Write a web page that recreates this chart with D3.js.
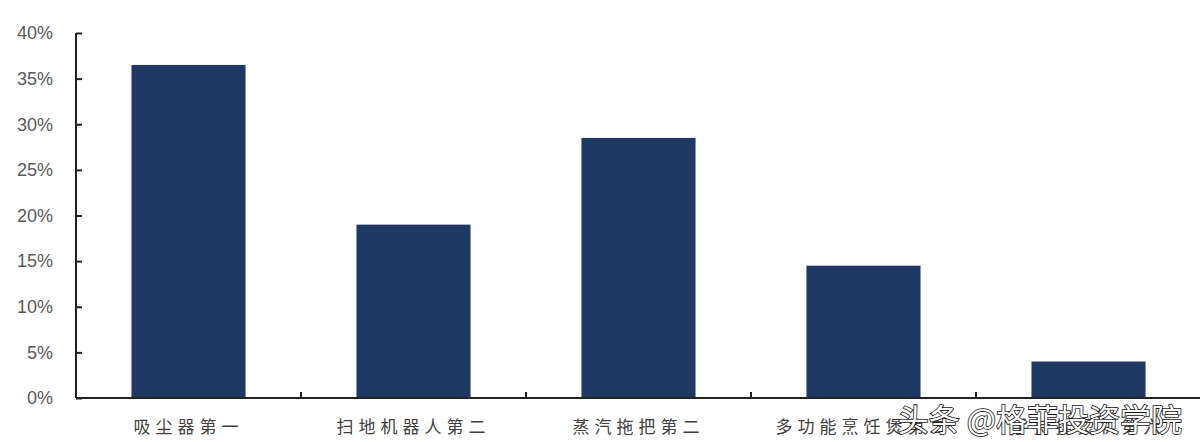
<!DOCTYPE html>
<html><head><meta charset="utf-8">
<script src="https://cdn.jsdelivr.net/npm/d3@7"></script>
<style>body{margin:0;background:#fff}svg{display:block}</style>
</head><body>
<script>
const categories = ["吸尘器第一","扫地机器人第二","蒸汽拖把第二","多功能烹饪煲第二","手持挂烫机第六"];
const values = [0.365, 0.19, 0.285, 0.145, 0.04];
const yTicks = [0,0.05,0.10,0.15,0.20,0.25,0.30,0.35,0.40];
const watermark = "头条 @格菲投资学院";

const W=1200,H=442;
const svg=d3.select("body").append("svg").attr("width",W).attr("height",H);
const x=d3.scaleBand().domain(categories).range([76,1201]).paddingInner(0.493).paddingOuter(0.2465);
const y=d3.scaleLinear().domain([0,0.4]).range([398,33]);

svg.selectAll("rect.bar").data(values).join("rect").attr("class","bar")
  .attr("x",(d,i)=>x(categories[i])).attr("width",x.bandwidth())
  .attr("y",d=>y(d)).attr("height",d=>y(0)-y(d)).attr("fill","#203864");

const ya=svg.append("g").attr("transform","translate(76,0)")
  .call(d3.axisLeft(y).tickValues(yTicks).tickFormat(d3.format(".0%")).tickSize(-6).tickPadding(23));
ya.select(".domain").attr("stroke","#222").attr("stroke-width",2).attr("d","M0,33V398");
ya.selectAll(".tick line").attr("stroke","#222").attr("stroke-width",2);
ya.selectAll("text").attr("font-family","'Liberation Sans',Arial,sans-serif").attr("font-size",18).attr("fill","#595959");

// x axis with boundary ticks
const xa=svg.append("g").attr("transform","translate(0,398)");
xa.append("line").attr("x1",76).attr("x2",1200).attr("y1",0).attr("y2",0).attr("stroke","#222").attr("stroke-width",2);
const bounds=categories.slice(1).map(c=>x(c)-x.step()*x.paddingInner()/2);
xa.selectAll("line.b").data(bounds).join("line").attr("class","b")
  .attr("x1",d=>d).attr("x2",d=>d).attr("y1",0).attr("y2",-6).attr("stroke","#222").attr("stroke-width",2);
xa.selectAll("text").data(categories).join("text")
  .attr("x",d=>x(d)+x.bandwidth()/2).attr("y",35).attr("text-anchor","middle")
  .attr("font-family","'Noto Sans CJK SC',sans-serif").attr("font-size",17).attr("letter-spacing","5px")
  .attr("fill","#404040").text(d=>d);

svg.append("text").attr("x",1182).attr("y",431).attr("text-anchor","end")
  .attr("font-family","'Noto Sans CJK SC',sans-serif").attr("font-size",31)
  .attr("fill","#fff").attr("stroke","#111").attr("stroke-width",1.6).attr("paint-order","stroke")
  .text(watermark);
</script>
</body></html>
